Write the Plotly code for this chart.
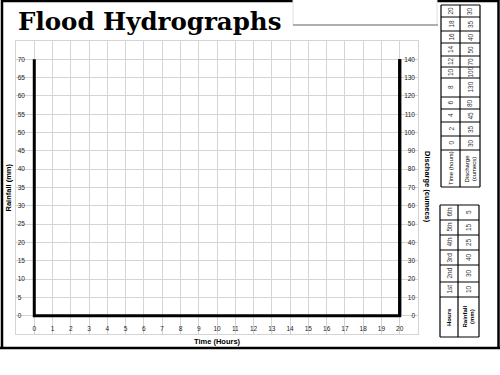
import plotly.graph_objects as go

# ---------------- data ----------------
hours_axis = list(range(0, 21))            # x-axis ticks (Time, hours)
rain_ticks = list(range(0, 75, 5))         # left axis ticks (Rainfall, mm)
discharge_ticks = list(range(0, 150, 10))  # right axis ticks (Discharge, cumecs)

table_hours = [0, 2, 4, 6, 8, 10, 12, 14, 16, 18, 20]
table_discharge = [30, 35, 45, 80, 130, 100, 70, 50, 40, 35, 30]
rain_periods = ["1st", "2nd", "3rd", "4th", "5th", "6th"]
rain_mm = [10, 30, 40, 25, 15, 5]

# ---------------- helpers ----------------
W, H = 500, 375
def px(x):
    return x / W
def py(y):
    return 1 - y / H

FONT = "Liberation Sans, Arial, sans-serif"
GRID = "#d4d4d4"

fig = go.Figure()

# thick axis outline (U shape) through the data scales
fig.add_trace(go.Scatter(
    x=[hours_axis[0], hours_axis[0], hours_axis[-1], hours_axis[-1]],
    y=[rain_ticks[-1], rain_ticks[0], rain_ticks[0], rain_ticks[-1]],
    mode="lines", line=dict(color="black", width=3),
    hoverinfo="skip", showlegend=False))
fig.add_trace(go.Scatter(
    x=[hours_axis[-1], hours_axis[-1]],
    y=[discharge_ticks[0], discharge_ticks[-1]],
    yaxis="y2", mode="lines", line=dict(color="black", width=3),
    hoverinfo="skip", showlegend=False))

shapes = []
annotations = []

def line(x0, y0, x1, y1, color="black", width=1.2):
    shapes.append(dict(type="line", xref="paper", yref="paper",
                       x0=px(x0), y0=py(y0), x1=px(x1), y1=py(y1),
                       line=dict(color=color, width=width), layer="above"))

# outer frame
line(2, 1, 499, 1, width=2.5)
line(2, 0, 2, 348.5, width=2.5)
line(0, 348, 500, 348, width=2.5)
line(498.5, 0, 498.5, 348.5, width=2.5)
# white gap in top border with title underline
shapes.append(dict(type="rect", xref="paper", yref="paper",
                   x0=px(293), y0=py(-1), x1=px(437), y1=py(25),
                   fillcolor="white", line=dict(color="#e0e0e0", width=1), layer="above"))
line(293, 25, 438, 25, color="#9a9a9a", width=1.5)

# ---------------- tables (rotated) ----------------
def txt(x, y, s, size=6.5, color="#333", angle=-90):
    annotations.append(dict(xref="paper", yref="paper", x=px(x), y=py(y),
                            text=s, showarrow=False, textangle=angle,
                            xanchor="center", yanchor="middle",
                            font=dict(family=FONT, size=size, color=color)))

def table(xs, ys, col1, col2):
    x0, xm, x1 = xs
    for yb in ys:
        line(x0, yb, x1, yb)
    for xb in xs:
        line(xb, ys[0], xb, ys[-1])
    for i in range(len(ys) - 1):
        yc = (ys[i] + ys[i + 1]) / 2
        last = i == len(ys) - 2
        size = 6 if last else 6.5
        color = "black" if last else "#333"
        txt((x0 + xm) / 2, yc, col1[i], size=size, color=color)
        txt((xm + x1) / 2, yc, col2[i], size=size, color=color)

t1_x = [441, 460, 480]
t1_y = [5, 17, 31, 43, 56, 67, 78, 97, 109, 122, 136, 150, 187]
table(t1_x, t1_y,
      [str(v) for v in table_hours[::-1]] + ["Time (hours)"],
      [str(v) for v in table_discharge[::-1]] + ["Discharge<br>(cumecs)"])

t2_x = [440, 458, 479]
t2_y = [205, 220, 235, 250, 265, 282, 297, 337]
table(t2_x, t2_y,
      rain_periods[::-1] + ["<b>Hours</b>"],
      [str(v) for v in rain_mm[::-1]] + ["<b>Rainfall<br>(mm)</b>"])

# ---------------- titles ----------------
annotations.append(dict(xref="paper", yref="paper", x=px(16), y=py(21.5),
                        text="<b>Flood Hydrographs</b>", showarrow=False,
                        xanchor="left", yanchor="middle",
                        font=dict(family="DejaVu Serif", size=24.5, color="black")))
annotations.append(dict(xref="paper", yref="paper", x=px(8), y=py(187.5),
                        text="<b>Rainfall (mm)</b>", showarrow=False, textangle=-90,
                        xanchor="center", yanchor="middle",
                        font=dict(family=FONT, size=7.5, color="black")))
annotations.append(dict(xref="paper", yref="paper", x=px(427), y=py(187),
                        text="<b>Discharge (cumecs)</b>", showarrow=False, textangle=90,
                        xanchor="center", yanchor="middle",
                        font=dict(family=FONT, size=7.5, color="black")))
annotations.append(dict(xref="paper", yref="paper", x=px(217), y=py(341),
                        text="<b>Time (Hours)</b>", showarrow=False,
                        xanchor="center", yanchor="middle",
                        font=dict(family=FONT, size=7.5, color="black")))

tickfont = dict(family=FONT, size=6.5, color="#222")
fig.update_layout(
    width=W, height=H, autosize=False,
    margin=dict(l=0, r=0, t=0, b=0, pad=0),
    paper_bgcolor="white", plot_bgcolor="white",
    showlegend=False,
    xaxis=dict(domain=[px(16), px(418)], range=[-1, 21],
               tickvals=hours_axis, ticktext=[str(v) for v in hours_axis],
               showgrid=True, gridcolor=GRID, gridwidth=1,
               showline=True, linecolor=GRID, linewidth=1, mirror=True,
               zeroline=False, ticks="", ticklabelposition="inside",
               tickfont=tickfont, fixedrange=True),
    yaxis=dict(domain=[py(334), py(41)], range=[-5, 75],
               tickvals=rain_ticks,
               showgrid=True, gridcolor=GRID, gridwidth=1,
               showline=True, linecolor=GRID, linewidth=1, mirror=True,
               zeroline=False, ticks="", ticklabelposition="inside",
               tickfont=tickfont, fixedrange=True),
    yaxis2=dict(overlaying="y", side="right", range=[-10, 150],
                tickvals=discharge_ticks, showgrid=False, zeroline=False,
                showline=False, ticks="", ticklabelposition="inside",
                tickfont=tickfont, fixedrange=True),
    shapes=shapes, annotations=annotations,
)

fig.write_html("out.html")
